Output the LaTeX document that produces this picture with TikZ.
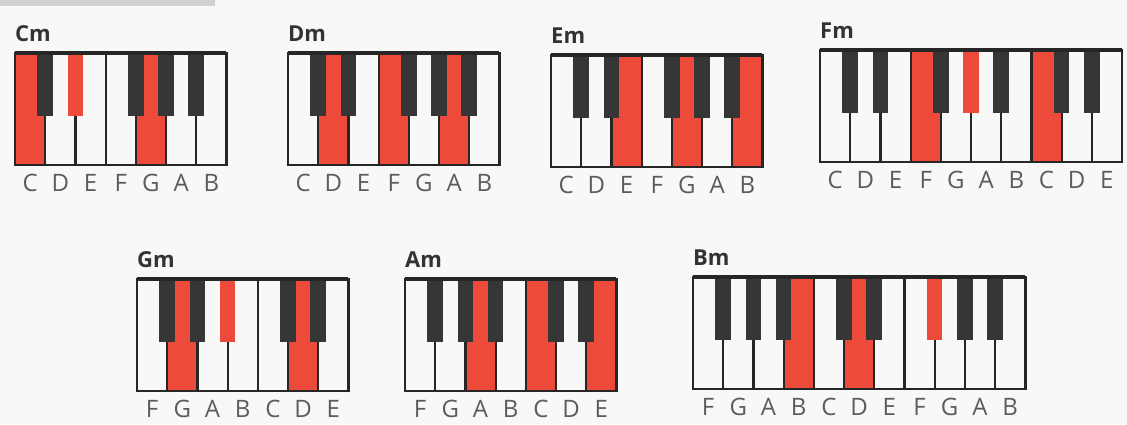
\documentclass[tikz,border=0pt]{standalone}
\usepackage{fontspec}
\setmainfont{Open Sans}
\usetikzlibrary{positioning}
\definecolor{hit}{HTML}{EE4A3B}
\definecolor{ebony}{HTML}{363636}
\definecolor{lbl}{HTML}{5C5C5C}
\definecolor{ttl}{HTML}{333333}
\definecolor{paper}{HTML}{F8F8F6}
\newcommand{\kw}{30.2}
\newcommand{\kh}{112}
\newcommand{\bh}{63}
\newcommand{\bw}{15.5}
\tikzset{
  wkey/.style={draw=black!85,line width=2.2pt},
  kframe/.style={draw=black!85,line width=2.8pt},
  keylbl/.style={text=lbl,inner sep=0pt,font=\fontsize{24}{24}\selectfont},
  chordname/.style={text=ttl,inner sep=0pt,anchor=base west,font=\bfseries\fontsize{22}{22}\selectfont},
}
% #1 id, #2 top left corner, #3 chord, #4 white letters, #5 red white keys, #6 black keys/colour
\newcommand{\pianokbd}[6]{%
\begin{scope}[shift={(#2)}]
  \foreach \i in {#5}{\fill[hit] (\i*\kw,0) rectangle ++(\kw,\kh);}
  \foreach \l [count=\i from 0] in {#4}{
    \draw[wkey] (\i*\kw,0) rectangle ++(\kw,\kh);
    \node[keylbl] (#1-\i) at (\i*\kw+\kw/2,\kh+18) {\l};
    \xdef\nkeys{\i}}
  \foreach \b/\c in {#6}{\fill[\c] (\b*\kw-\bw/2,0) rectangle ++(\bw,\bh);}
  \draw[kframe] (0,0) rectangle ({(\nkeys+1)*\kw},\kh);
  \draw[draw=black!85,line width=4pt] (0,0) -- ({(\nkeys+1)*\kw},0);
  \node[chordname] (#1-name) at (0,-12) {#3};
\end{scope}}

\begin{document}
\begin{tikzpicture}[x=1pt,y=-1pt]
\fill[paper] (0,0) rectangle (1127,424);
\useasboundingbox (0,0) rectangle (1127,424);
\fill[black!18] (0,0) rectangle (215,6);
% ---- top row ----
\pianokbd{cm}{15,53}{Cm}{C,D,E,F,G,A,B}{0,4}{1/ebony,2/hit,4/ebony,5/ebony,6/ebony}
\pianokbd{dm}{288,53}{Dm}{C,D,E,F,G,A,B}{1,3,5}{1/ebony,2/ebony,4/ebony,5/ebony,6/ebony}
\pianokbd{em}{551,55}{Em}{C,D,E,F,G,A,B}{2,4,6}{1/ebony,2/ebony,4/ebony,5/ebony,6/ebony}
\pianokbd{fm}{820,50}{Fm}{C,D,E,F,G,A,B,C,D,E}{3,7}{1/ebony,2/ebony,4/ebony,5/hit,6/ebony,8/ebony,9/ebony}
% ---- bottom row ----
\pianokbd{gm}{137,279}{Gm}{F,G,A,B,C,D,E}{1,5}{1/ebony,2/ebony,3/hit,5/ebony,6/ebony}
\pianokbd{am}{405,279}{Am}{F,G,A,B,C,D,E}{2,4,6}{1/ebony,2/ebony,3/ebony,5/ebony,6/ebony}
\pianokbd{bm}{693,277}{Bm}{F,G,A,B,C,D,E,F,G,A,B}{3,5}{1/ebony,2/ebony,3/ebony,5/ebony,6/ebony,8/hit,9/ebony,10/ebony}
\end{tikzpicture}
\end{document}
